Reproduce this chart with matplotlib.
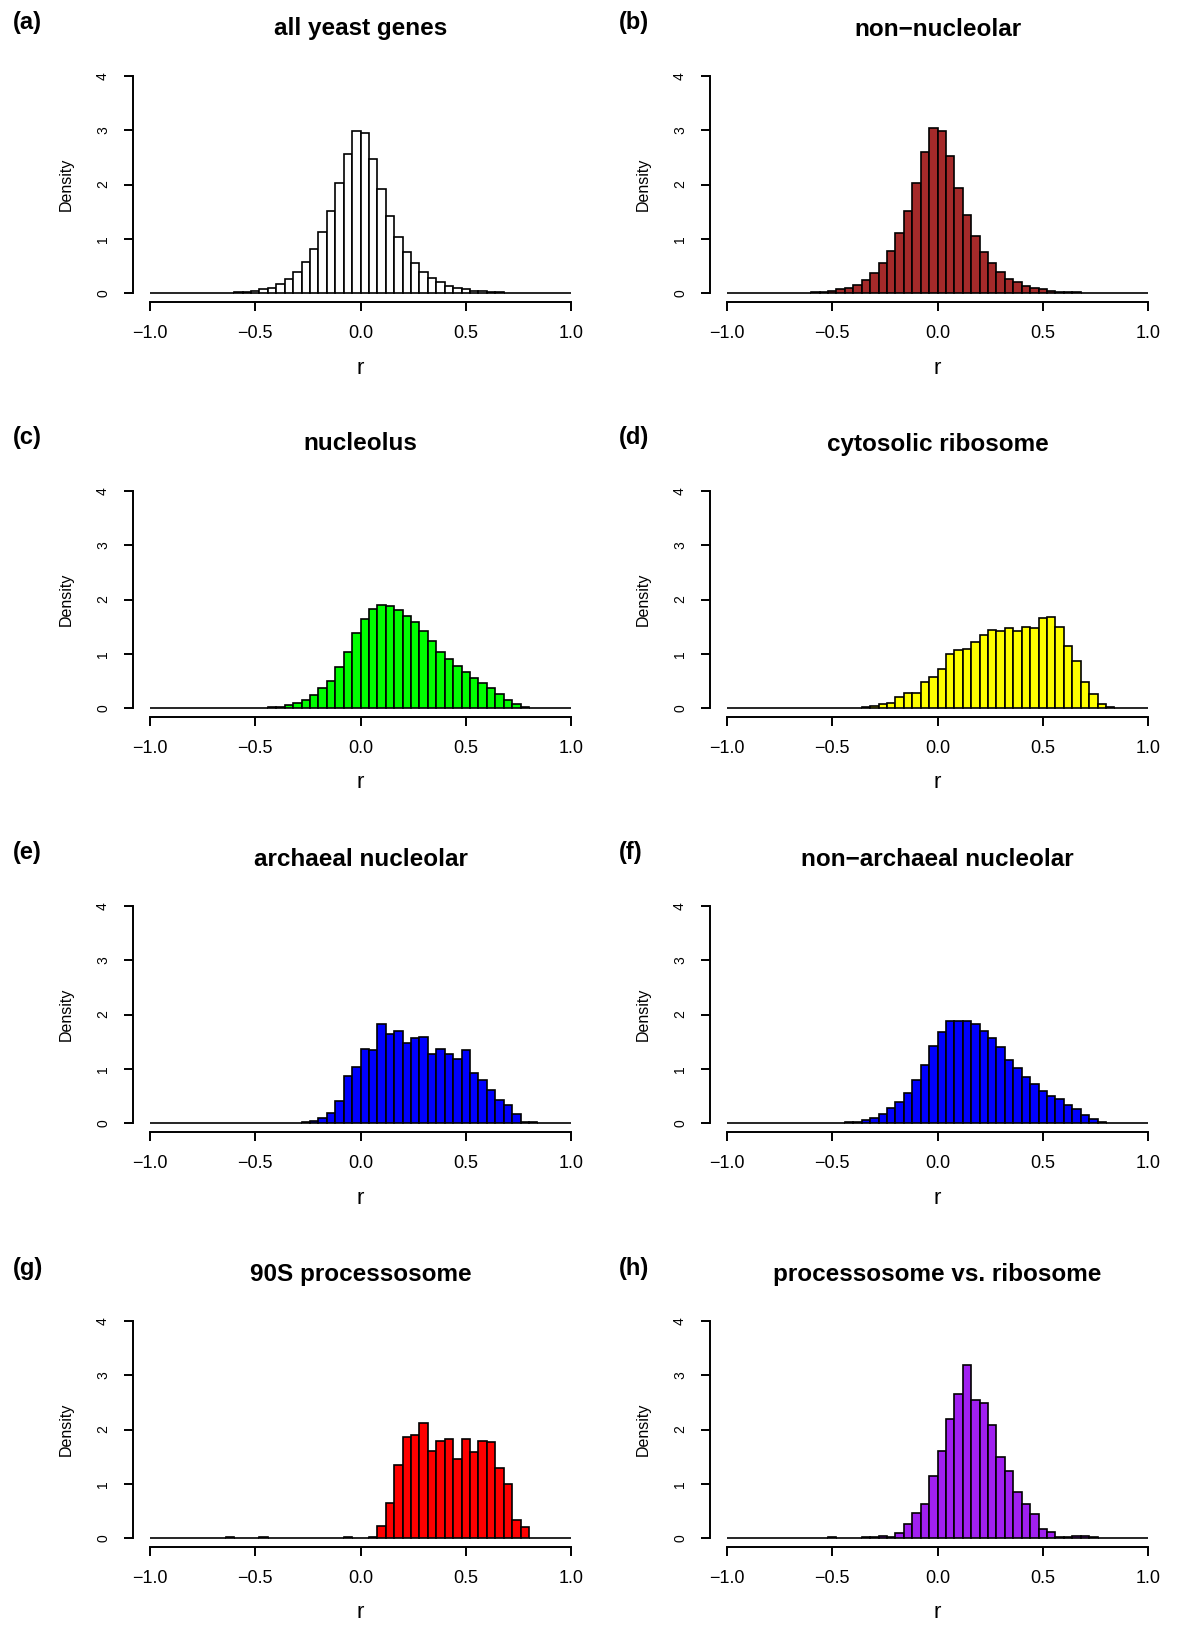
import matplotlib
matplotlib.use('Agg')
import matplotlib.pyplot as plt
import numpy as np

plt.rcParams['font.family'] = ['Liberation Sans', 'DejaVu Sans']

# 50 bins of width 0.04 from -1 to 1, density per bin
bin_edges = np.linspace(-1.0, 1.0, 51)

all_genes = [0.001, 0.001, 0.002, 0.002, 0.003, 0.004, 0.005, 0.007, 0.009, 0.012,
             0.017, 0.025, 0.04, 0.07, 0.10, 0.17, 0.26, 0.39, 0.58, 0.81,
             1.12, 1.52, 2.02, 2.56, 2.98, 2.94, 2.47, 1.91, 1.43, 1.04,
             0.76, 0.55, 0.39, 0.28, 0.20, 0.14, 0.09, 0.07, 0.05, 0.035,
             0.025, 0.018, 0.012, 0.008, 0.006, 0.004, 0.003, 0.002, 0.002, 0.001]

non_nucleolar = [0.001, 0.001, 0.002, 0.002, 0.003, 0.004, 0.005, 0.007, 0.009, 0.012,
                 0.016, 0.024, 0.05, 0.07, 0.10, 0.15, 0.25, 0.37, 0.55, 0.78,
                 1.10, 1.51, 2.02, 2.60, 3.03, 2.99, 2.52, 1.94, 1.44, 1.05,
                 0.76, 0.55, 0.39, 0.26, 0.20, 0.13, 0.09, 0.07, 0.045, 0.033,
                 0.024, 0.017, 0.012, 0.008, 0.006, 0.004, 0.003, 0.002, 0.002, 0.001]

nucleolus = [0.0, 0.0, 0.001, 0.001, 0.002, 0.002, 0.003, 0.003, 0.004, 0.004,
             0.005, 0.006, 0.008, 0.01, 0.015, 0.03, 0.055, 0.09, 0.15, 0.25,
             0.37, 0.51, 0.75, 1.04, 1.38, 1.64, 1.82, 1.90, 1.88, 1.80,
             1.69, 1.58, 1.42, 1.23, 1.04, 0.91, 0.77, 0.66, 0.56, 0.47,
             0.38, 0.27, 0.15, 0.07, 0.025, 0.01, 0.004, 0.002, 0.001, 0.0]

cyto_ribosome = [0.0, 0.0, 0.0, 0.0, 0.0, 0.0, 0.0, 0.0, 0.0, 0.0,
                 0.0, 0.004, 0.002, 0.003, 0.005, 0.01, 0.02, 0.04, 0.07, 0.10,
                 0.21, 0.29, 0.29, 0.48, 0.57, 0.72, 0.99, 1.07, 1.09, 1.22,
                 1.34, 1.44, 1.42, 1.47, 1.43, 1.49, 1.47, 1.66, 1.68, 1.50,
                 1.15, 0.87, 0.48, 0.26, 0.07, 0.03, 0.01, 0.005, 0.002, 0.0]

archaeal = [0.0, 0.0, 0.0, 0.0, 0.0, 0.0, 0.0, 0.0, 0.0, 0.0,
            0.0, 0.005, 0.005, 0.003, 0.0, 0.003, 0.005, 0.01, 0.02, 0.04,
            0.10, 0.19, 0.41, 0.87, 1.04, 1.36, 1.34, 1.82, 1.64, 1.69,
            1.47, 1.57, 1.59, 1.28, 1.37, 1.28, 1.18, 1.34, 0.93, 0.79,
            0.61, 0.42, 0.33, 0.17, 0.03, 0.03, 0.0, 0.0, 0.0, 0.0]

non_archaeal = [0.0, 0.0, 0.0, 0.0, 0.0, 0.0, 0.0, 0.0, 0.0, 0.0,
                0.001, 0.002, 0.005, 0.01, 0.015, 0.03, 0.06, 0.10, 0.18, 0.28,
                0.40, 0.55, 0.79, 1.08, 1.42, 1.68, 1.88, 1.88, 1.88, 1.82,
                1.69, 1.56, 1.40, 1.17, 1.01, 0.85, 0.72, 0.60, 0.51, 0.44,
                0.34, 0.26, 0.15, 0.07, 0.025, 0.01, 0.003, 0.0, 0.0, 0.0]

processosome = [0.0, 0.0, 0.0, 0.0, 0.0, 0.0, 0.0, 0.0, 0.0, 0.02,
                0.0, 0.0, 0.0, 0.015, 0.0, 0.0, 0.0, 0.01, 0.01, 0.0,
                0.01, 0.01, 0.0, 0.025, 0.0, 0.0, 0.03, 0.23, 0.65, 1.34,
                1.87, 1.89, 2.12, 1.61, 1.78, 1.83, 1.46, 1.83, 1.59, 1.78,
                1.77, 1.29, 1.00, 0.33, 0.21, 0.0, 0.0, 0.0, 0.0, 0.0]

proc_vs_ribo = [0.0, 0.0, 0.0, 0.0, 0.0, 0.0, 0.0, 0.0, 0.0, 0.0,
                0.003, 0.005, 0.015, 0.005, 0.003, 0.005, 0.02, 0.02, 0.05, 0.02,
                0.10, 0.26, 0.47, 0.63, 1.14, 1.61, 2.20, 2.66, 3.19, 2.55,
                2.48, 2.08, 1.50, 1.23, 0.86, 0.63, 0.44, 0.18, 0.12, 0.03,
                0.03, 0.04, 0.04, 0.025, 0.01, 0.003, 0.002, 0.001, 0.001, 0.0]

series = [all_genes, non_nucleolar, nucleolus, cyto_ribosome,
          archaeal, non_archaeal, processosome, proc_vs_ribo]
titles = ['all yeast genes', 'non\u2212nucleolar', 'nucleolus', 'cytosolic ribosome',
          'archaeal nucleolar', 'non\u2212archaeal nucleolar', '90S processosome',
          'processosome vs. ribosome']
labels = ['(a)', '(b)', '(c)', '(d)', '(e)', '(f)', '(g)', '(h)']
colors = ['#FFFFFF', '#A52A2A', '#00FF00', '#FFFF00',
          '#0000FF', '#0000FF', '#FF0000', '#A020F0']
x_ticks = [-1.0, -0.5, 0.0, 0.5, 1.0]
y_ticks = [0, 1, 2, 3, 4]

W, H = 1200, 1647
fig = plt.figure(figsize=(W / 100, H / 100), dpi=100)


def fx(px):
    return px / W


def fy(py):
    return 1 - py / H


for k in range(8):
    col = k % 2
    row = k // 2
    left = 133 + 577 * col
    top = 67 + 415 * row
    width, height = 455, 235

    ax = fig.add_axes([fx(left), fy(top + height), width / W, height / H])
    ax.bar(bin_edges[:-1], series[k], width=0.04, align='edge',
           color=colors[k], edgecolor='black', linewidth=1.2)
    ax.set_xlim(-1.08, 1.08)
    ax.set_ylim(-0.16, 4.16)

    for s in ['top', 'right']:
        ax.spines[s].set_visible(False)
    ax.spines['left'].set_bounds(0, 4)
    ax.spines['bottom'].set_bounds(-1, 1)
    ax.spines['left'].set_linewidth(1.4)
    ax.spines['bottom'].set_linewidth(1.4)

    ax.set_xticks(x_ticks)
    ax.set_xticklabels([('%.1f' % v).replace('-', '\u2212') for v in x_ticks])
    ax.set_yticks(y_ticks)
    ax.set_yticklabels([str(v) for v in y_ticks], rotation=90, va='center')
    ax.tick_params(axis='x', length=6.5, width=1.4, labelsize=13, pad=10)
    ax.tick_params(axis='y', length=6.5, width=1.4, labelsize=10, pad=10)

    cx = left + width / 2
    fig.text(fx(cx), fy(29 + 415 * row), titles[k], ha='center', va='center',
             fontsize=17.5, fontweight='bold')
    fig.text(fx(13 + 606 * col), fy(23 + 415 * row), labels[k], ha='left', va='center',
             fontsize=17, fontweight='bold')
    fig.text(fx(cx), fy(368 + 415 * row), 'r', ha='center', va='center', fontsize=16)
    fig.text(fx(left - 67), fy(top + height / 2), 'Density', ha='center', va='center',
             rotation=90, fontsize=11.5)

fig.savefig('out.png', dpi=100)
